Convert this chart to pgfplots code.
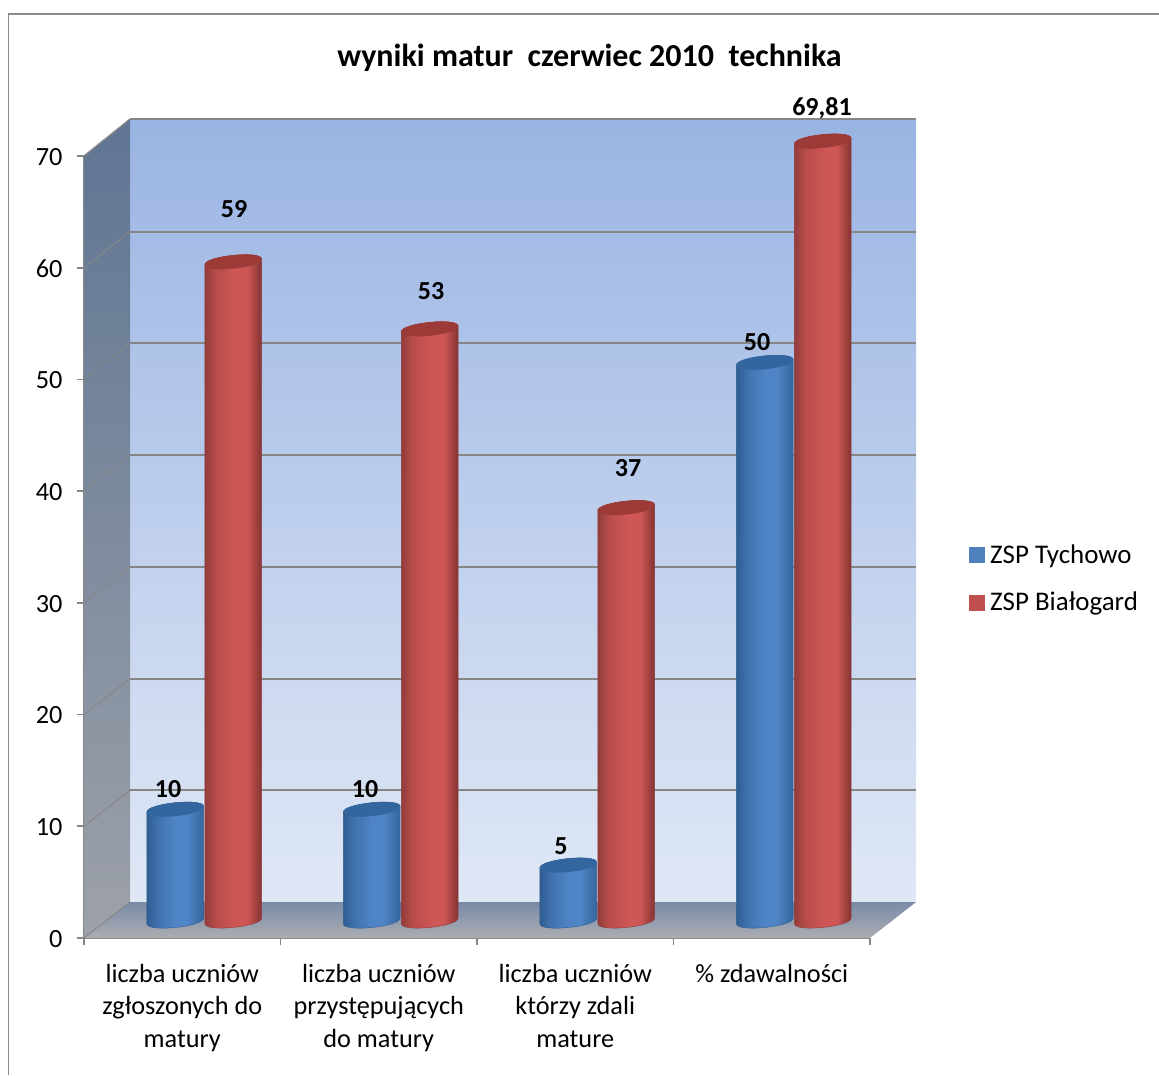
\documentclass[border=0pt]{standalone}
\usepackage{pgfplots}
\pgfplotsset{compat=1.18}
\usepackage{fontspec}
\setmainfont{Carlito}
\definecolor{wtop}{HTML}{9AB4E3}
\definecolor{wbot}{HTML}{E0E8F6}
\definecolor{stop}{HTML}{5F7593}
\definecolor{sbot}{HTML}{9DA1A9}
\definecolor{ftop}{HTML}{7A8BA8}
\definecolor{fbot}{HTML}{ABADB2}
\definecolor{lin}{HTML}{868686}
\definecolor{frame}{HTML}{8C8C8C}
\definecolor{bA}{HTML}{2F5C90}
\definecolor{bB}{HTML}{3F72AE}
\definecolor{bC}{HTML}{4F85C6}
\definecolor{bD}{HTML}{33659C}
\definecolor{bcap}{HTML}{33659E}
\definecolor{rA}{HTML}{8F3B3A}
\definecolor{rB}{HTML}{B84D4B}
\definecolor{rC}{HTML}{CE5755}
\definecolor{rD}{HTML}{7E3230}
\definecolor{rcap}{HTML}{9C3A37}
\definecolor{legb}{HTML}{4F81BD}
\definecolor{legr}{HTML}{C0504D}
\pgfdeclarehorizontalshading{cylblue}{100bp}{color(0bp)=(bA);color(25bp)=(bA);color(35bp)=(bB);color(50bp)=(bC);color(60bp)=(bC);color(75bp)=(bD);color(100bp)=(bD)}
\pgfdeclarehorizontalshading{cylred}{100bp}{color(0bp)=(rA);color(25bp)=(rA);color(35bp)=(rB);color(52bp)=(rC);color(62bp)=(rC);color(75bp)=(rD);color(100bp)=(rD)}
\pgfdeclareplotmark{cylnone}{}
% cylinder drawn at each data point, its height from the point's value
\pgfplotsset{
  cylinder bar/.style n args={4}{
    only marks, scatter, mark=cylnone, forget plot,
    xshift=#1*.75pt, yshift=12.75pt,
    visualization depends on=rawy \as \v,
    scatter/@pre marker code/.code={%
      \scope[x=.75pt,y=.75pt]
      \pgfmathsetmacro\h{\v*11.17}
      \shade[shading=#2,draw=#4,line width=.3pt]
        (-28.35,-2.98) .. controls (-29.26,5.64) and (27.44,11.6) .. (28.35,2.98)
        -- (28.35,{2.98-\h}) .. controls (29.26,{-5.64-\h}) and (-27.44,{-11.6-\h}) .. (-28.35,{-2.98-\h}) -- cycle;
      \fill[#3]
        (-28.35,-2.98) .. controls (-29.26,5.64) and (27.44,11.6) .. (28.35,2.98)
        .. controls (29.26,-5.64) and (-27.44,-11.6) .. (-28.35,-2.98) -- cycle;
    },
    scatter/@post marker code/.code={\endscope},
  },
}
\newcommand{\lab}{\fontsize{19.7pt}{24.4pt}\selectfont}
\begin{document}
\begin{tikzpicture}[x=.75pt,y=.75pt]
\useasboundingbox (0,0) rectangle (1159,1075);
\fill[white] (0,0) rectangle (1159,1075);
\draw[frame,line width=1.2pt] (8.5,0) -- (8.5,1061) -- (1159,1061);
\begin{axis}[
  at={(84*.75pt,137*.75pt)}, anchor=south west,
  scale only axis, width=786*.75pt, height=782*.75pt,
  xmin=0, xmax=4, ymin=0, ymax=70, clip=false,
  axis x line*=bottom, axis y line*=left,
  axis line style={lin,line width=1.5pt},
  tick align=outside, major tick length=5.6pt, minor tick length=5.6pt,
  tick style={lin,line width=1.2pt},
  major x tick style={draw=none},
  xtick={0.5,1.5,2.5,3.5}, minor xtick={0,1,2,3,4},
  xticklabels={{liczba uczniów\\zgłoszonych do\\matury},{liczba uczniów\\przystępujących\\do matury},{liczba uczniów\\którzy zdali\\mature},{\% zdawalności\\[0pt]\strut\\\strut}},
  xticklabel style={align=center,font=\lab,yshift=-10.3pt},
  ytick={0,10,...,70},
  yticklabel style={font=\lab,xshift=-7pt,yshift=-.6pt},
  /pgf/number format/assume math mode=true,
  legend style={at={(axis cs:4.5,32.15)},anchor=west,draw=none,fill=none,font=\fontsize{20.2pt}{24pt}\selectfont,row sep=20pt,inner sep=0pt,nodes={inner sep=0pt}},
  legend cell align=left,
  legend image code/.code={\fill[#1] (0pt,-5.6pt) rectangle (11.25pt,5.6pt);},
]
% walls and floor
\shade[top color=wtop,bottom color=wbot] (axis cs:0.2341,3.22) rectangle (axis cs:4.2341,73.31);
\shade[top color=stop,bottom color=sbot] (axis cs:0,0) -- (axis cs:0.2341,3.22) -- (axis cs:0.2341,73.31) -- (axis cs:0,70) -- cycle;
\shade[top color=ftop,bottom color=fbot] (axis cs:0,0) -- (axis cs:0.2341,3.22) -- (axis cs:4.2341,3.22) -- (axis cs:4,0) -- cycle;
\draw[lin,line width=1pt] (axis cs:0,70) -- (axis cs:0.2341,73.31);
\pgfplotsinvokeforeach{10,20,30,40,50,60}{
  \draw[lin,line width=.7pt] (axis cs:0,#1) -- (axis cs:0.2341,#1+3.22);
  \draw[lin,line width=1.5pt] (axis cs:0.2341,#1+3.22) -- (axis cs:4.2341,#1+3.22);
}
\draw[lin,line width=.7pt] (axis cs:0,0) -- (axis cs:0.2341,3.22);
\draw[lin,line width=1.5pt] (axis cs:0.2341,73.31) -- (axis cs:4.2341,73.31);
% series
\addplot[ybar,bar width=30pt,bar shift=-5.25pt,yshift=12.75pt,fill=legb,draw=none,forget plot]
  coordinates {(0.5,10) (1.5,10) (2.5,5) (3.5,50)};
\addplot[cylinder bar={-7}{cylblue}{bcap}{bA}]
  coordinates {(0.5,10) (1.5,10) (2.5,5) (3.5,50)};
\addplot[ybar,bar width=30pt,bar shift=38.25pt,yshift=12.75pt,fill=legr,draw=none,forget plot]
  coordinates {(0.5,59) (1.5,53) (2.5,37) (3.5,69.81)};
\addplot[cylinder bar={51}{cylred}{rcap}{rA}]
  coordinates {(0.5,59) (1.5,53) (2.5,37) (3.5,69.81)};
\addlegendimage{legb}\addlegendentry{\hspace{4.5pt}ZSP Tychowo}
\addlegendimage{legr}\addlegendentry{\hspace{4.5pt}ZSP Białogard}
\end{axis}
\begin{scope}[shift={(0,1075)},y=-.75pt]
\node[font=\fontsize{24pt}{28pt}\selectfont\bfseries] at (589.5,58) {wyniki matur\ \ czerwiec 2010\ \ technika};
\foreach \xx/\yy/\tt in {168/789/10,234/209/59,365/789/10,431/291/53,561/846/5,628/468/37,757/342/50,822/108/{69,81}}
  \node[font=\fontsize{19.5pt}{24pt}\selectfont\bfseries] at (\xx,\yy) {\tt};
\end{scope}
\end{tikzpicture}
\end{document}
